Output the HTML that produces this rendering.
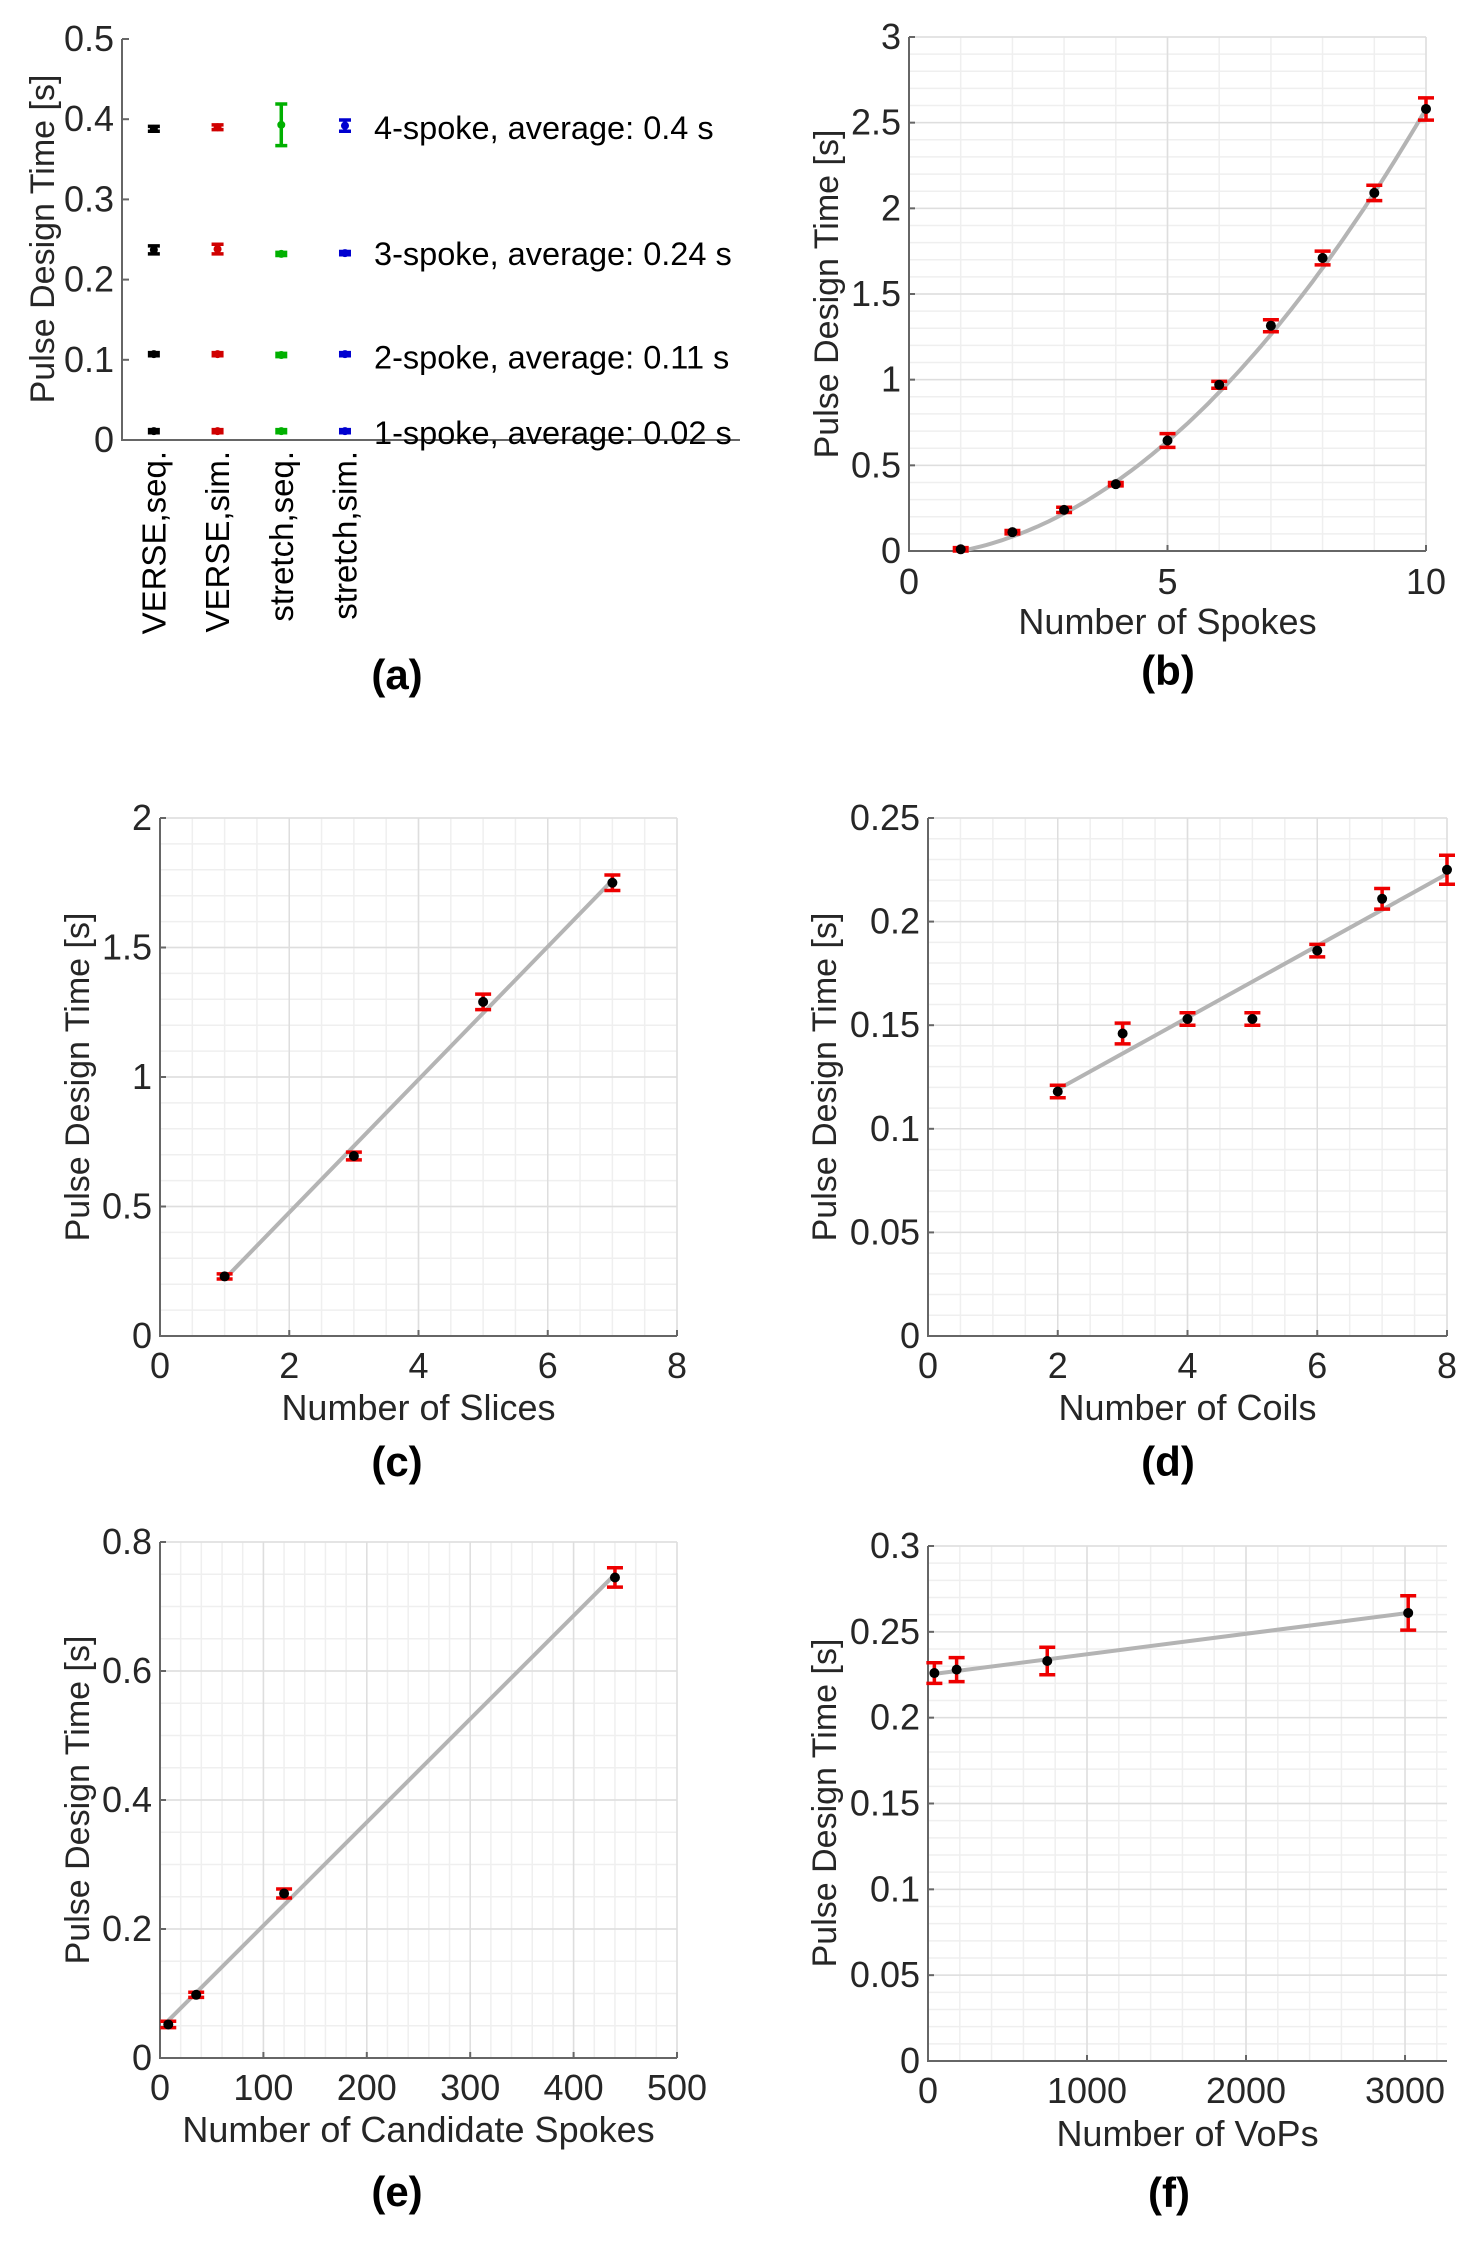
<!DOCTYPE html>
<html><head><meta charset="utf-8"><style>
html,body{margin:0;padding:0;background:#fff;}
svg{display:block;font-family:"Liberation Sans",Arial,sans-serif;}
</style></head><body>
<svg id="fig" width="1480" height="2253" viewBox="0 0 1480 2253" xmlns="http://www.w3.org/2000/svg"></svg>
<script>
// ---- Panel (a) data ----
const aCats = ["VERSE,seq.","VERSE,sim.","stretch,seq.","stretch,sim."];
const aColors = ["#000000","#d00000","#00b000","#0000d0"];
const aGroupLabels = ["4-spoke, average: 0.4 s","3-spoke, average: 0.24 s","2-spoke, average: 0.11 s","1-spoke, average: 0.02 s"];
const aSpoke4 = [0.388,0.390,0.393,0.392];
const aSpoke4Err = [0.003,0.003,0.026,0.007];
const aSpoke3 = [0.237,0.238,0.232,0.233];
const aSpoke3Err = [0.005,0.006,0.002,0.002];
const aSpoke2 = [0.107,0.107,0.106,0.107];
const aSpoke2Err = [0.002,0.002,0.002,0.002];
const aSpoke1 = [0.011,0.011,0.011,0.011];
const aSpoke1Err = [0.002,0.002,0.002,0.002];
const aYTicks = [0,0.1,0.2,0.3,0.4,0.5];
const aLabelY = [0.39,0.233,0.104,0.01];
// ---- Panel (b) ----
const bX = [1,2,3,4,5,6,7,8,9,10];
const bY = [0.01,0.11,0.24,0.39,0.645,0.97,1.315,1.71,2.09,2.58];
const bErr = [0.01,0.01,0.015,0.01,0.04,0.02,0.035,0.04,0.045,0.065];
const bFitCoef = [0.02533,0.008,-0.0333];
const bXTicks = [0,5,10];
const bYTicks = [0,0.5,1,1.5,2,2.5,3];
// ---- Panel (c) ----
const cX = [1,3,5,7];
const cY = [0.23,0.695,1.29,1.75];
const cErr = [0.01,0.015,0.03,0.03];
const cFit = [[1,0.22],[7,1.76]];
const cXTicks = [0,2,4,6,8];
const cYTicks = [0,0.5,1,1.5,2];
// ---- Panel (d) ----
const dX = [2,3,4,5,6,7,8];
const dY = [0.118,0.146,0.153,0.153,0.186,0.211,0.225];
const dErr = [0.003,0.005,0.003,0.003,0.003,0.005,0.007];
const dFit = [[2,0.119],[8,0.223]];
const dXTicks = [0,2,4,6,8];
const dYTicks = [0,0.05,0.1,0.15,0.2,0.25];
// ---- Panel (e) ----
const eX = [8,35,120,440];
const eY = [0.052,0.098,0.255,0.745];
const eErr = [0.005,0.004,0.007,0.015];
const eFit = [[8,0.058],[440,0.75]];
const eXTicks = [0,100,200,300,400,500];
const eYTicks = [0,0.2,0.4,0.6,0.8];
// ---- Panel (f) ----
const fX = [40,180,750,3020];
const fY = [0.226,0.228,0.233,0.261];
const fErr = [0.006,0.007,0.008,0.01];
const fFit = [[40,0.2255],[3020,0.261]];
const fXTicks = [0,1000,2000,3000];
const fYTicks = [0,0.05,0.1,0.15,0.2,0.25,0.3];

const NS="http://www.w3.org/2000/svg";
const svg=document.getElementById('fig');
function mk(tag,attrs,parent){const e=document.createElementNS(NS,tag);for(const k in attrs)e.setAttribute(k,attrs[k]);(parent||svg).appendChild(e);return e;}
function txt(s,attrs,parent){const e=mk('text',attrs,parent);e.textContent=s;return e;}
const FS=36;

function panel(o){
  const g=mk('g',{});
  
  
  const sx=v=>o.L+(v-o.xmin)/(o.xmax-o.xmin)*(o.R-o.L);
  const sy=v=>o.B-(v-o.ymin)/(o.ymax-o.ymin)*(o.B-o.T);
  const grid=mk('g',{},g);
  
  
  for(let v=o.xmin;v<=o.xmax+1e-9;v+=o.xminor){mk('line',{x1:sx(v),x2:sx(v),y1:o.T,y2:o.B,stroke:'#efefef','stroke-width':1.5},grid);}
  for(let v=o.ymin;v<=o.ymax+1e-9;v+=o.yminor){mk('line',{x1:o.L,x2:o.R,y1:sy(v),y2:sy(v),stroke:'#efefef','stroke-width':1.5},grid);}
  o.xt.forEach(v=>mk('line',{x1:sx(v),x2:sx(v),y1:o.T,y2:o.B,stroke:'#dedede','stroke-width':1.5},grid));
  o.yt.forEach(v=>mk('line',{x1:o.L,x2:o.R,y1:sy(v),y2:sy(v),stroke:'#dedede','stroke-width':1.5},grid));
  const ax=mk('path',{d:`M${o.L},${o.T}V${o.B}H${o.R}`,fill:'none',stroke:'#666','stroke-width':2},g);
  
  
  o.xt.forEach(v=>{
    mk('line',{x1:sx(v),x2:sx(v),y1:o.B,y2:o.B-6,stroke:'#666','stroke-width':2},g);
    const t=txt(String(v),{x:sx(v),y:o.xtY,'text-anchor':'middle','font-size':FS,fill:'#262626'},g);
    
    
  });
  o.yt.forEach(v=>{
    mk('line',{x1:o.L,x2:o.L+6,y1:sy(v),y2:sy(v),stroke:'#666','stroke-width':2},g);
    const t=txt(String(v),{x:o.L-8,y:sy(v)+12,'text-anchor':'end','font-size':FS,fill:'#262626'},g);
    
    
  });
  const xl=txt(o.xlabel,{x:(o.L+o.R)/2,y:o.xlY,'text-anchor':'middle','font-size':FS,fill:'#262626'},g);
  
  
  const yl=txt('Pulse Design Time [s]',{x:0,y:0,'text-anchor':'middle','font-size':34,fill:'#262626',transform:`translate(${o.ylX},${o.ylYc}) rotate(-90)`,'dominant-baseline':'central'},g);
  
  
  let d='';
  o.fit.forEach((p,i)=>{d+=(i?'L':'M')+sx(p[0]).toFixed(1)+','+sy(p[1]).toFixed(1);});
  const fl=mk('path',{d:d,fill:'none',stroke:'#b4b4b4','stroke-width':4},g);
  
  
  o.X.forEach((x,i)=>{
    const y=o.Y[i],e=o.E[i];
    const px=sx(x),y1=sy(y+e),y2=sy(y-e);
    const eb=mk('path',{d:`M${px},${y1}V${y2}M${px-8},${y1}H${px+8}M${px-8},${y2}H${px+8}`,stroke:'#ee0000','stroke-width':3.5,fill:'none'},g);
    
    
    const pt=mk('circle',{cx:px,cy:sy(y),r:5,fill:'#000'},g);
    
    
  });
  const pl=txt(o.tag,{x:o.tagX,y:o.tagY,'text-anchor':'middle','font-size':42,'font-weight':'bold',fill:'#000'},g);
  
  
}

// Panel (a)
(function(){
  const g=mk('g',{});
  
  
  const L=122,T=39,B=440,R=740,xmin=0.5,xmax=10.2;
  const sx=v=>L+(v-xmin)/(xmax-xmin)*(R-L);
  const sy=v=>B-v/0.5*(B-T);
  mk('path',{d:`M${L},${T}V${B}H${R}`,fill:'none',stroke:'#666','stroke-width':2},g);
  aYTicks.forEach(v=>{
    mk('line',{x1:L,x2:L+7,y1:sy(v),y2:sy(v),stroke:'#666','stroke-width':2},g);
    const t=txt(String(v),{x:L-8,y:sy(v)+12,'text-anchor':'end','font-size':FS,fill:'#262626'},g);
    
    
  });
  aCats.forEach((c,i)=>{
    const t=txt(c,{x:0,y:0,'text-anchor':'end','font-size':33,fill:'#000','dominant-baseline':'central',transform:`translate(${sx(i+1)},${B+11}) rotate(-90)`},g);
    
    
  });
  const series=[[aSpoke4,aSpoke4Err],[aSpoke3,aSpoke3Err],[aSpoke2,aSpoke2Err],[aSpoke1,aSpoke1Err]];
  series.forEach((s,gi)=>{
    s[0].forEach((v,i)=>{
      const px=sx(i+1),e=s[1][i],y1=sy(v+e),y2=sy(v-e);
      const eb=mk('path',{d:`M${px},${y1}V${y2}M${px-6},${y1}H${px+6}M${px-6},${y2}H${px+6}`,stroke:aColors[i],'stroke-width':3.5,fill:'none'},g);
      
      
      const pt=mk('circle',{cx:px,cy:sy(v),r:4,fill:aColors[i]},g);
      
      
    });
    const t=txt(aGroupLabels[gi],{x:374,y:sy(aLabelY[gi])+12,'font-size':32.5,fill:'#000'},g);
    
    
  });
  const yl=txt('Pulse Design Time [s]',{x:0,y:0,'text-anchor':'middle','font-size':34,fill:'#262626','dominant-baseline':'central',transform:'translate(43,239) rotate(-90)'},g);
  
  
  const pl=txt('(a)',{x:397,y:689,'text-anchor':'middle','font-size':42,'font-weight':'bold',fill:'#000'},g);
  
  
})();

const bFit=[];for(let x=1;x<=10.001;x+=0.1){bFit.push([x,bFitCoef[0]*x*x+bFitCoef[1]*x+bFitCoef[2]]);}
panel({name:'panel-b',L:909,R:1426,T:37,B:551,xmin:0,xmax:10,ymin:0,ymax:3,xminor:1,yminor:0.1,xt:bXTicks,yt:bYTicks,X:bX,Y:bY,E:bErr,fit:bFit,xlabel:'Number of Spokes',xtY:594,xlY:634,ylX:827,ylYc:294,tag:'(b)',tagX:1168,tagY:685});
panel({name:'panel-c',L:160,R:677,T:818,B:1336,xmin:0,xmax:8,ymin:0,ymax:2,xminor:0.5,yminor:0.1,xt:cXTicks,yt:cYTicks,X:cX,Y:cY,E:cErr,fit:cFit,xlabel:'Number of Slices',xtY:1378,xlY:1420,ylX:78,ylYc:1077,tag:'(c)',tagX:397,tagY:1476});
panel({name:'panel-d',L:928,R:1447,T:818,B:1336,xmin:0,xmax:8,ymin:0,ymax:0.25,xminor:0.5,yminor:0.01,xt:dXTicks,yt:dYTicks,X:dX,Y:dY,E:dErr,fit:dFit,xlabel:'Number of Coils',xtY:1378,xlY:1420,ylX:825,ylYc:1077,tag:'(d)',tagX:1168,tagY:1476});
panel({name:'panel-e',L:160,R:677,T:1542,B:2058,xmin:0,xmax:500,ymin:0,ymax:0.8,xminor:20,yminor:0.05,xt:eXTicks,yt:eYTicks,X:eX,Y:eY,E:eErr,fit:eFit,xlabel:'Number of Candidate Spokes',xtY:2100,xlY:2142,ylX:78,ylYc:1800,tag:'(e)',tagX:397,tagY:2206});
panel({name:'panel-f',L:928,R:1447,T:1546,B:2061,xmin:0,xmax:3264,ymin:0,ymax:0.3,xminor:200,yminor:0.01,xt:fXTicks,yt:fYTicks,X:fX,Y:fY,E:fErr,fit:fFit,xlabel:'Number of VoPs',xtY:2103,xlY:2146,ylX:825,ylYc:1803,tag:'(f)',tagX:1169,tagY:2207});
</script>
</body></html>
